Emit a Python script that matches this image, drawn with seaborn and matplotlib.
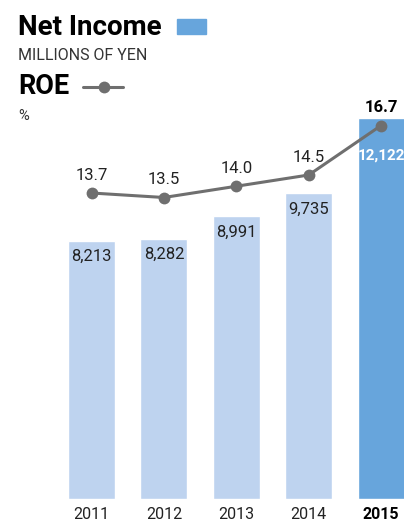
import numpy as np
import pandas as pd
import matplotlib
matplotlib.use("Agg")
import matplotlib.pyplot as plt
from matplotlib import font_manager
import seaborn as sns
from matplotlib.lines import Line2D
from matplotlib.patches import Rectangle

years = ["2011", "2012", "2013", "2014", "2015"]
net_income = [8213, 8282, 8991, 9735, 12122]
income_labels = ["8,213", "8,282", "8,991", "9,735", "12,122"]
roe = [13.7, 13.5, 14.0, 14.5, 16.7]
roe_labels = ["13.7", "13.5", "14.0", "14.5", "16.7"]

sns.set_theme(style="white")
names = {f.name for f in font_manager.fontManager.ttflist}
cond = "Liberation Sans Narrow" if "Liberation Sans Narrow" in names else "Roboto"
plt.rcParams["font.family"] = [cond, "DejaVu Sans"]

W, H = 404, 521
fig = plt.figure(figsize=(W / 100, H / 100), dpi=100)
fig.patch.set_facecolor("white")

bottom_px = 22
ax = fig.add_axes([0, bottom_px / H, 1, 1 - bottom_px / H])
light, dark = "#bed3ef", "#67a5dc"
df = pd.DataFrame({"year": years, "ni": net_income})
sns.barplot(data=df, x="year", y="ni", hue="year", palette=[light] * 4 + [dark],
            width=0.65, legend=False, ax=ax, saturation=1)
spacing = 72.4
c0 = 91.5
ax.set_xlim(-c0 / spacing, (W - c0) / spacing)
ax.set_ylim(0, (H - bottom_px) / 0.03145)
for s in ax.spines.values():
    s.set_visible(False)
ax.set_yticks([])
ax.set_xlabel("")
ax.set_ylabel("")
ax.tick_params(axis="x", length=0, pad=6, labelsize=11.5, colors="#222222")
for i, lab in enumerate(ax.get_xticklabels()):
    if i == 4:
        lab.set_fontweight("bold")
        lab.set_color("black")

# bar value labels
for i, (v, t) in enumerate(zip(net_income, income_labels)):
    off = -16 if i < 4 else -38
    ax.annotate(t, (i, v), xytext=(0, off), textcoords="offset pixels",
                ha="center", va="center", fontsize=12 if i < 4 else 11,
                color="white" if i == 4 else "#222222",
                fontweight="bold" if i == 4 else "normal")

ax2 = ax.twinx()
ax2.set_ylim(0.1, 0.1 + (H - bottom_px) / 22.5)
ax2.set_xlim(ax.get_xlim())
sns.lineplot(x=np.arange(len(years)), y=roe, marker="o", color="#6f6f6f",
             linewidth=2.2, markersize=8.5, markeredgewidth=0, ax=ax2)
for s in ax2.spines.values():
    s.set_visible(False)
ax2.set_yticks([])
for i, (v, t) in enumerate(zip(roe, roe_labels)):
    ax2.annotate(t, (i, v), xytext=(0, 18), textcoords="offset pixels",
                 ha="center", va="center", fontsize=12,
                 color="black" if i == 4 else "#222222",
                 fontweight="bold" if i == 4 else "normal")

# header / legend
fig.text(18 / W, 1 - 35 / H, "Net Income", fontsize=20, fontweight="bold",
         va="baseline", ha="left", color="black")
fig.add_artist(Rectangle((177 / W, 1 - 34 / H), 29 / W, 15 / H,
                         transform=fig.transFigure, color=dark))
fig.text(18 / W, 1 - 60 / H, "MILLIONS OF YEN", fontsize=11.5, va="baseline",
         ha="left", color="#333333")
fig.text(18 / W, 1 - 94 / H, "ROE", fontsize=19.5, fontweight="bold",
         va="baseline", ha="left", color="black")
fig.add_artist(Line2D([83 / W, 123 / W], [1 - 87 / H, 1 - 87 / H],
                      transform=fig.transFigure, color="#6f6f6f", linewidth=2.2))
fig.add_artist(Line2D([103.5 / W], [1 - 87 / H], transform=fig.transFigure,
                      color="#6f6f6f", marker="o", markersize=8.5, markeredgewidth=0))
fig.text(18 / W, 1 - 120 / H, "%", fontsize=10.5, va="baseline", ha="left",
         color="#333333")

fig.savefig("out.png", dpi=100, facecolor="white")
